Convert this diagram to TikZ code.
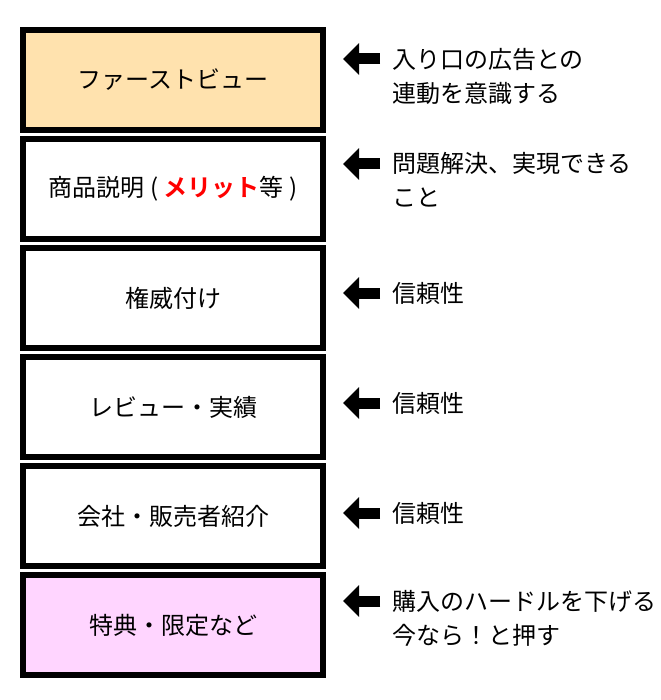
\documentclass[tikz,border=0pt]{standalone}
\usepackage{fontspec}
\setmainfont{Noto Sans CJK JP}[BoldFont={Noto Sans CJK JP Bold}]
\usetikzlibrary{arrows.meta}
\definecolor{cpeach}{HTML}{FFE2AE}
\definecolor{cpink}{HTML}{FFD5FF}
\definecolor{cred}{HTML}{FF0000}
\tikzset{
  every picture/.style={x=1pt, y=-1pt},
  jp/.style={font=\fontsize{24}{34}\selectfont},
  stage/.style={draw=black, line width=6pt, fill=#1, minimum width=300pt, minimum height=100pt, inner sep=0pt, jp},
  stage/.default=white,
  note/.style={jp, align=left, anchor=west, inner sep=0pt},
  pointer/.style={-{Triangle[length=16pt, width=31pt]}, line width=11pt},
}
\begin{document}
\begin{tikzpicture}
  \useasboundingbox (0,0) rectangle (660,700);
  % funnel stages
  \foreach \i/\y/\f/\t in {
      1/80/cpeach/ファーストビュー,
      2/189/white/{商品説明 ( \textcolor{cred}{\bfseries メリット}等 )},
      3/298/white/権威付け,
      4/407/white/レビュー・実績,
      5/516/white/会社・販売者紹介,
      6/625/cpink/特典・限定など} {
    \node[stage=\f] (b\i) at (173,\y) {\t};
  }
  % notes on the right
  \foreach \i/\ny/\ay/\n in {
      1/76/59/{入り口の広告との\\連動を意識する},
      2/180/164/{問題解決、実現できる\\こと},
      3/293/293/信頼性,
      4/403/403/信頼性,
      5/513/513/信頼性,
      6/618/601/{購入のハードルを下げる\\今なら！と押す}} {
    \node[note] (n\i) at (392,\ny) {\n};
    \coordinate (t\i) at (343,\ay);
    \draw[pointer] ([xshift=-12pt]n\i.west |- t\i) -- (t\i);
  }
\end{tikzpicture}
\end{document}
